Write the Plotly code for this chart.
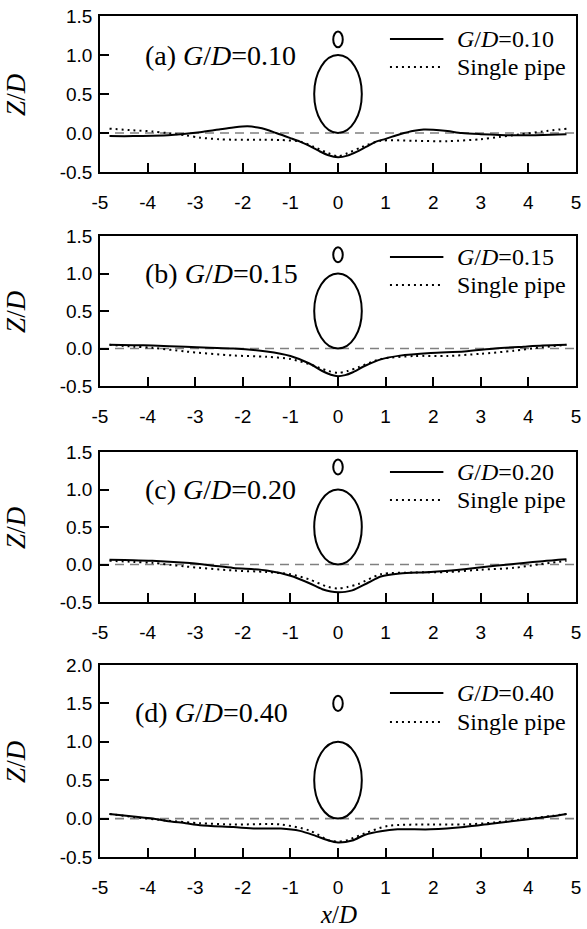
import plotly.graph_objects as go

# ---------------- data ----------------
x_tick_vals = [-5, -4, -3, -2, -1, 0, 1, 2, 3, 4, 5]
x_tick_labels = ["-5", "-4", "-3", "-2", "-1", "0", "1", "2", "3", "4", "5"]
y_tick_vals_abc = [-0.5, 0.0, 0.5, 1.0, 1.5]
y_tick_labels_abc = ["-0.5", "0.0", "0.5", "1.0", "1.5"]
y_tick_vals_d = [-0.5, 0.0, 0.5, 1.0, 1.5, 2.0]
y_tick_labels_d = ["-0.5", "0.0", "0.5", "1.0", "1.5", "2.0"]

panel_letters = ["a", "b", "c", "d"]
gap_ratios = [0.10, 0.15, 0.20, 0.40]
gap_labels = ["0.10", "0.15", "0.20", "0.40"]
main_pipe_d = 1.0
small_pipe_d = 0.2

# (a) G/D = 0.10
a_twin_x = [-4.8, -4.3, -3.9, -3.5, -3.2, -2.9, -2.5, -2.2, -1.9, -1.6, -1.3, -1.0, -0.8, -0.6, -0.4, -0.2,
            0.0, 0.2, 0.4, 0.6, 0.8, 1.0, 1.3, 1.6, 1.8, 2.0, 2.3, 2.6, 3.0, 3.4, 3.8, 4.3, 4.8]
a_twin_z = [-0.04, -0.04, -0.035, -0.025, -0.01, 0.01, 0.045, 0.07, 0.085, 0.06, 0.0, -0.065, -0.11, -0.165,
            -0.23, -0.285, -0.31, -0.29, -0.24, -0.175, -0.11, -0.075, -0.015, 0.03, 0.045, 0.042, 0.025,
            0.0, -0.015, -0.025, -0.03, -0.025, -0.015]
a_single_x = [-4.8, -4.3, -3.9, -3.6, -3.2, -2.9, -2.5, -2.2, -1.6, -1.2, -0.8, -0.5, -0.2, 0.0, 0.2, 0.5,
              0.9, 1.6, 2.3, 3.0, 3.4, 3.8, 4.3, 4.8]
a_single_z = [0.055, 0.035, 0.02, 0.0, -0.03, -0.06, -0.08, -0.086, -0.088, -0.09, -0.11, -0.18, -0.26, -0.3,
              -0.26, -0.18, -0.1, -0.1, -0.105, -0.08, -0.05, -0.02, 0.02, 0.055]

# (b) G/D = 0.15
b_twin_x = [-4.8, -4.3, -3.9, -3.2, -2.7, -2.2, -1.5, -1.0, -0.6, -0.33, -0.15, 0.0, 0.15, 0.3, 0.57, 0.9,
            1.3, 1.95, 2.65, 3.3, 3.9, 4.3, 4.8]
b_twin_z = [0.05, 0.045, 0.04, 0.022, 0.01, 0.0, -0.04, -0.1, -0.2, -0.3, -0.35, -0.37, -0.355, -0.32, -0.23,
            -0.145, -0.095, -0.06, -0.04, 0.0, 0.025, 0.04, 0.05]
b_single_x = [-4.8, -4.3, -3.9, -3.2, -2.2, -1.5, -1.0, -0.6, -0.2, 0.0, 0.2, 0.43, 0.9, 1.6, 2.3, 3.0, 3.7,
              4.2, 4.8]
b_single_z = [0.05, 0.025, 0.009, -0.04, -0.093, -0.11, -0.14, -0.21, -0.3, -0.325, -0.3, -0.25, -0.14, -0.1,
              -0.1, -0.07, -0.03, 0.01, 0.05]

# (c) G/D = 0.20
c_twin_x = [-4.8, -4.3, -3.9, -3.2, -2.7, -2.2, -1.5, -1.0, -0.6, -0.33, -0.15, 0.0, 0.15, 0.3, 0.64, 0.9,
            1.3, 1.95, 2.65, 3.3, 3.9, 4.3, 4.8]
c_twin_z = [0.062, 0.058, 0.05, 0.022, -0.009, -0.045, -0.08, -0.15, -0.25, -0.33, -0.36, -0.37, -0.365,
            -0.345, -0.24, -0.16, -0.12, -0.1, -0.062, -0.018, 0.02, 0.045, 0.07]
c_single_x = [-4.8, -4.3, -3.9, -3.2, -2.2, -1.5, -1.0, -0.6, -0.2, 0.0, 0.2, 0.43, 0.9, 1.6, 2.3, 3.0, 3.7,
              4.2, 4.8]
c_single_z = [0.05, 0.035, 0.022, -0.027, -0.08, -0.1, -0.13, -0.2, -0.3, -0.32, -0.3, -0.26, -0.13, -0.107,
              -0.1, -0.07, -0.044, 0.0, 0.05]

# (d) G/D = 0.40
d_twin_x = [-4.8, -4.3, -3.9, -3.6, -3.2, -2.9, -2.2, -1.7, -1.2, -0.8, -0.47, -0.2, 0.0, 0.3, 0.57, 0.9,
            1.25, 1.95, 2.65, 3.3, 4.0, 4.5, 4.8]
d_twin_z = [0.061, 0.026, 0.0, -0.03, -0.06, -0.085, -0.11, -0.13, -0.13, -0.16, -0.225, -0.285, -0.31,
            -0.285, -0.21, -0.165, -0.14, -0.14, -0.11, -0.06, -0.01, 0.03, 0.06]
d_single_x = [-4.8, -4.3, -3.6, -2.9, -2.2, -1.2, -0.6, -0.2, 0.0, 0.2, 0.57, 1.05, 1.95, 2.65, 3.3, 4.0,
              4.5, 4.8]
d_single_z = [0.06, 0.02, -0.025, -0.06, -0.077, -0.077, -0.155, -0.28, -0.3, -0.28, -0.19, -0.095, -0.077,
              -0.077, -0.05, 0.0, 0.035, 0.06]

twin_x = [a_twin_x, b_twin_x, c_twin_x, d_twin_x]
twin_z = [a_twin_z, b_twin_z, c_twin_z, d_twin_z]
single_x = [a_single_x, b_single_x, c_single_x, d_single_x]
single_z = [a_single_z, b_single_z, c_single_z, d_single_z]

# ---------------- layout geometry ----------------
W, H = 587, 929
ML, MR, MT, MB = 100, 6, 16, 72
plot_h = H - MT - MB
plot_w = W - ML - MR
panel_px = [(16, 172), (236, 386), (452, 602), (665, 857)]  # top, bottom in pixels
y_ranges = [[-0.5, 1.5], [-0.5, 1.5], [-0.5, 1.5], [-0.5, 2.0]]
label_pos = [(-4.09, 1.0), (-4.09, 1.0), (-4.09, 1.0), (-4.3, 1.38)]
legend_rows_px = [(23, 51), (21, 49), (20, 48), (28, 57)]   # offsets below panel top
legend_line_px = (393, 447)
legend_text_px = 459

SERIF = "Liberation Serif, Times New Roman, serif"
SANS = "Liberation Sans, Arial, sans-serif"

fig = go.Figure()
layout = dict(
    width=W, height=H,
    margin=dict(l=ML, r=MR, t=MT, b=MB, pad=0),
    paper_bgcolor="white", plot_bgcolor="white",
    showlegend=False,
    shapes=[], annotations=[],
)

def px_to_dom_x(px):
    return (px - ML) / plot_w

for i in range(4):
    k = "" if i == 0 else str(i + 1)
    xa, ya = "x" + k, "y" + k
    top, bot = panel_px[i]
    dom = [(H - MB - bot) / plot_h, (H - MB - top) / plot_h]
    dom = [max(0, min(1, v)) for v in dom]
    twin_name = "<i>G</i>/<i>D</i>=" + gap_labels[i]

    fig.add_trace(go.Scatter(
        x=twin_x[i], y=twin_z[i], mode="lines", xaxis=xa, yaxis=ya,
        line=dict(color="black", width=2, shape="spline", smoothing=0.8),
        name=twin_name, hoverinfo="skip"))
    fig.add_trace(go.Scatter(
        x=single_x[i], y=single_z[i], mode="lines", xaxis=xa, yaxis=ya,
        line=dict(color="black", width=2, dash="2px,4px", shape="spline", smoothing=0.8),
        name="Single pipe", hoverinfo="skip"))

    yt_vals = y_tick_vals_d if i == 3 else y_tick_vals_abc
    yt_text = y_tick_labels_d if i == 3 else y_tick_labels_abc

    layout["xaxis" + k] = dict(
        domain=[0, 1], anchor=ya, range=[-5, 5],
        tickmode="array", tickvals=x_tick_vals, ticktext=x_tick_labels,
        ticks="inside", ticklen=9, tickwidth=1.5, tickcolor="black",
        showline=True, linecolor="black", linewidth=1.5, mirror=True,
        showgrid=False, zeroline=False, ticklabelstandoff=12,
        tickfont=dict(family=SANS, size=19, color="black"),
    )
    layout["yaxis" + k] = dict(
        domain=dom, anchor=xa, range=y_ranges[i],
        tickmode="array", tickvals=yt_vals, ticktext=yt_text,
        ticks="inside", ticklen=9, tickwidth=1.5, tickcolor="black",
        showline=True, linecolor="black", linewidth=1.5, mirror=True,
        showgrid=False, zeroline=False, ticklabelstandoff=2,
        tickfont=dict(family=SANS, size=19, color="black"),
    )

    # y-axis title
    layout["annotations"].append(dict(
        xref="paper", yref=ya + " domain", x=px_to_dom_x(15), y=0.5,
        xanchor="center", yanchor="middle", textangle=-90, showarrow=False,
        text="<i>Z</i>/<i>D</i>", font=dict(family=SERIF, size=27, color="black")))

    # zero reference line
    layout["shapes"].append(dict(
        type="line", xref=xa + " domain", yref=ya, x0=0, x1=1, y0=0, y1=0,
        line=dict(color="#808080", width=1.6, dash="9px,6px"), layer="below"))
    # main pipe
    layout["shapes"].append(dict(
        type="circle", xref=xa, yref=ya,
        x0=-main_pipe_d / 2, x1=main_pipe_d / 2, y0=0, y1=main_pipe_d,
        line=dict(color="black", width=2)))
    # small pipe
    yb = main_pipe_d + gap_ratios[i]
    layout["shapes"].append(dict(
        type="circle", xref=xa, yref=ya,
        x0=-small_pipe_d / 2, x1=small_pipe_d / 2, y0=yb, y1=yb + small_pipe_d,
        line=dict(color="black", width=2)))
    # panel label
    layout["annotations"].append(dict(
        xref=xa, yref=ya, x=label_pos[i][0], y=label_pos[i][1],
        xanchor="left", yanchor="middle", showarrow=False,
        text="(" + panel_letters[i] + ") " + twin_name,
        font=dict(family=SERIF, size=28, color="black")))

    # legend (key lines + labels)
    ph = bot - top
    for r, (nm, dash) in enumerate([(twin_name, "solid"), ("Single pipe", "2px,4px")]):
        yd = (bot - (top + legend_rows_px[i][r])) / ph
        layout["shapes"].append(dict(
            type="line", xref=xa + " domain", yref=ya + " domain",
            x0=px_to_dom_x(legend_line_px[0]), x1=px_to_dom_x(legend_line_px[1]), y0=yd, y1=yd,
            line=dict(color="black", width=2, dash=dash)))
        layout["annotations"].append(dict(
            xref=xa + " domain", yref=ya + " domain", x=px_to_dom_x(legend_text_px), y=yd,
            xanchor="left", yanchor="middle", showarrow=False, text=nm,
            font=dict(family=SERIF, size=24, color="black")))

# x-axis title
layout["annotations"].append(dict(
    xref="x4", yref="paper", x=0, y=(H - MB - 915) / plot_h,
    xanchor="center", yanchor="middle", showarrow=False,
    text="<i>x</i>/<i>D</i>", font=dict(family=SERIF, size=25, color="black")))

fig.update_layout(**layout)
fig.write_html("out.html")
